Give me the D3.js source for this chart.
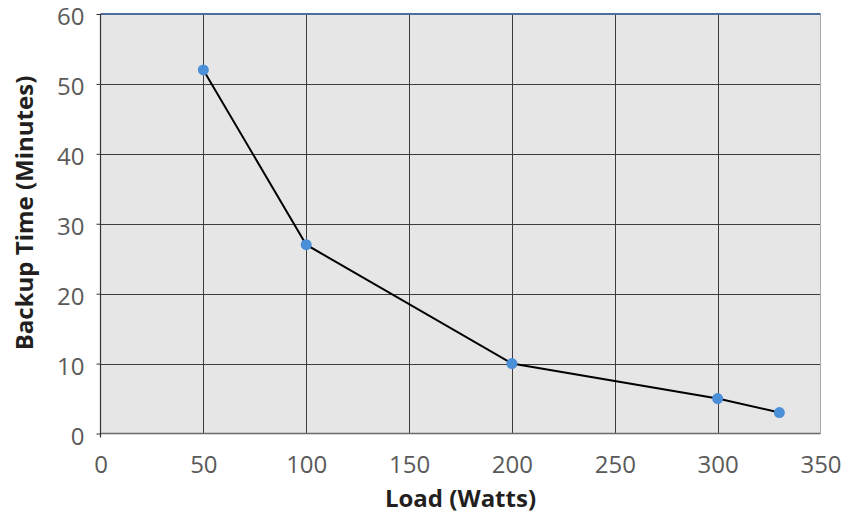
<!DOCTYPE html>
<meta charset="utf-8">
<style>
body { margin: 0; background: #fff; }
svg text { font-family: "Open Sans", "Noto Sans", sans-serif; }
.tick text { fill: #5a5a5a; font-size: 24px; }
.title { fill: #231f20; font-size: 24px; font-weight: bold; text-anchor: middle; }
</style>
<body>
<svg width="853" height="525"></svg>
<script src="https://cdn.jsdelivr.net/npm/d3@7"></script>
<script>

var loads = [50, 100, 200, 300, 330];
var minutes = [52, 27, 10, 5, 3];
var xTicks = [0, 50, 100, 150, 200, 250, 300, 350];
var yTicks = [0, 10, 20, 30, 40, 50, 60];

var svg = d3.select("svg");
var pLeft = 100.5, pRight = 820.5, pTop = 14, pBottom = 433.5;

var x = d3.scaleLinear().domain([0, 350]).range([pLeft, pRight]);
var y = d3.scaleLinear().domain([0, 60]).range([pBottom, pTop]);

// plot background
svg.append("rect")
  .attr("x", pLeft).attr("y", pTop)
  .attr("width", pRight - pLeft).attr("height", pBottom - pTop)
  .attr("fill", "#e6e6e6");

// grid
svg.append("g").selectAll("line").data(yTicks.slice(1, -1)).join("line")
  .attr("x1", pLeft).attr("x2", pRight)
  .attr("y1", d => Math.round(y(d)) + 0.5).attr("y2", d => Math.round(y(d)) + 0.5)
  .attr("stroke", "#3c3c3c").attr("stroke-width", 1);
svg.append("g").selectAll("line").data(xTicks.slice(1, -1)).join("line")
  .attr("x1", d => Math.round(x(d)) + 0.5).attr("x2", d => Math.round(x(d)) + 0.5)
  .attr("y1", pTop).attr("y2", pBottom)
  .attr("stroke", "#3c3c3c").attr("stroke-width", 1);

// right border and top line
svg.append("line").attr("x1", pRight).attr("x2", pRight).attr("y1", pTop).attr("y2", pBottom)
  .attr("stroke", "#a8a8a8");
svg.append("line").attr("x1", pLeft).attr("x2", pRight).attr("y1", pTop).attr("y2", pTop)
  .attr("stroke", "#4a6d9c").attr("stroke-width", 2);

// axes
var yAxis = d3.axisLeft(y).tickValues(yTicks).tickSize(4).tickPadding(12);
var gy = svg.append("g").attr("transform", "translate(" + pLeft + ",0)").call(yAxis);
gy.select(".domain").remove();
gy.selectAll(".tick line").attr("stroke", "#333");
gy.selectAll(".tick text").attr("dy", "0.45em");

var xAxis = d3.axisBottom(x).tickValues(xTicks).tickSize(0).tickPadding(22);
var gx = svg.append("g").attr("transform", "translate(0," + pBottom + ")").call(xAxis);
gx.select(".domain").remove();

svg.append("line").attr("x1", pLeft).attr("x2", pRight).attr("y1", pBottom).attr("y2", pBottom)
  .attr("stroke", "#6a6a6a").attr("stroke-width", 1.5);
svg.append("line").attr("x1", pLeft).attr("x2", pLeft).attr("y1", pTop).attr("y2", pBottom + 4)
  .attr("stroke", "#333").attr("stroke-width", 1.2);

// series
var pts = loads.map((d, i) => [d, minutes[i]]);
svg.append("path")
  .datum(pts)
  .attr("fill", "none")
  .attr("stroke", "#000")
  .attr("stroke-width", 2)
  .attr("d", d3.line().x(d => x(d[0])).y(d => y(d[1])));

svg.append("g").selectAll("circle").data(pts).join("circle")
  .attr("cx", d => x(d[0])).attr("cy", d => y(d[1]))
  .attr("r", 5.5)
  .attr("fill", "#4a8fd8");

// titles
svg.append("text").attr("class", "title")
  .attr("x", (pLeft + pRight) / 2).attr("y", 507)
  .text("Load (Watts)");
svg.append("text").attr("class", "title")
  .attr("transform", "translate(33,213) rotate(-90)")
  .text("Backup Time (Minutes)");

</script>
